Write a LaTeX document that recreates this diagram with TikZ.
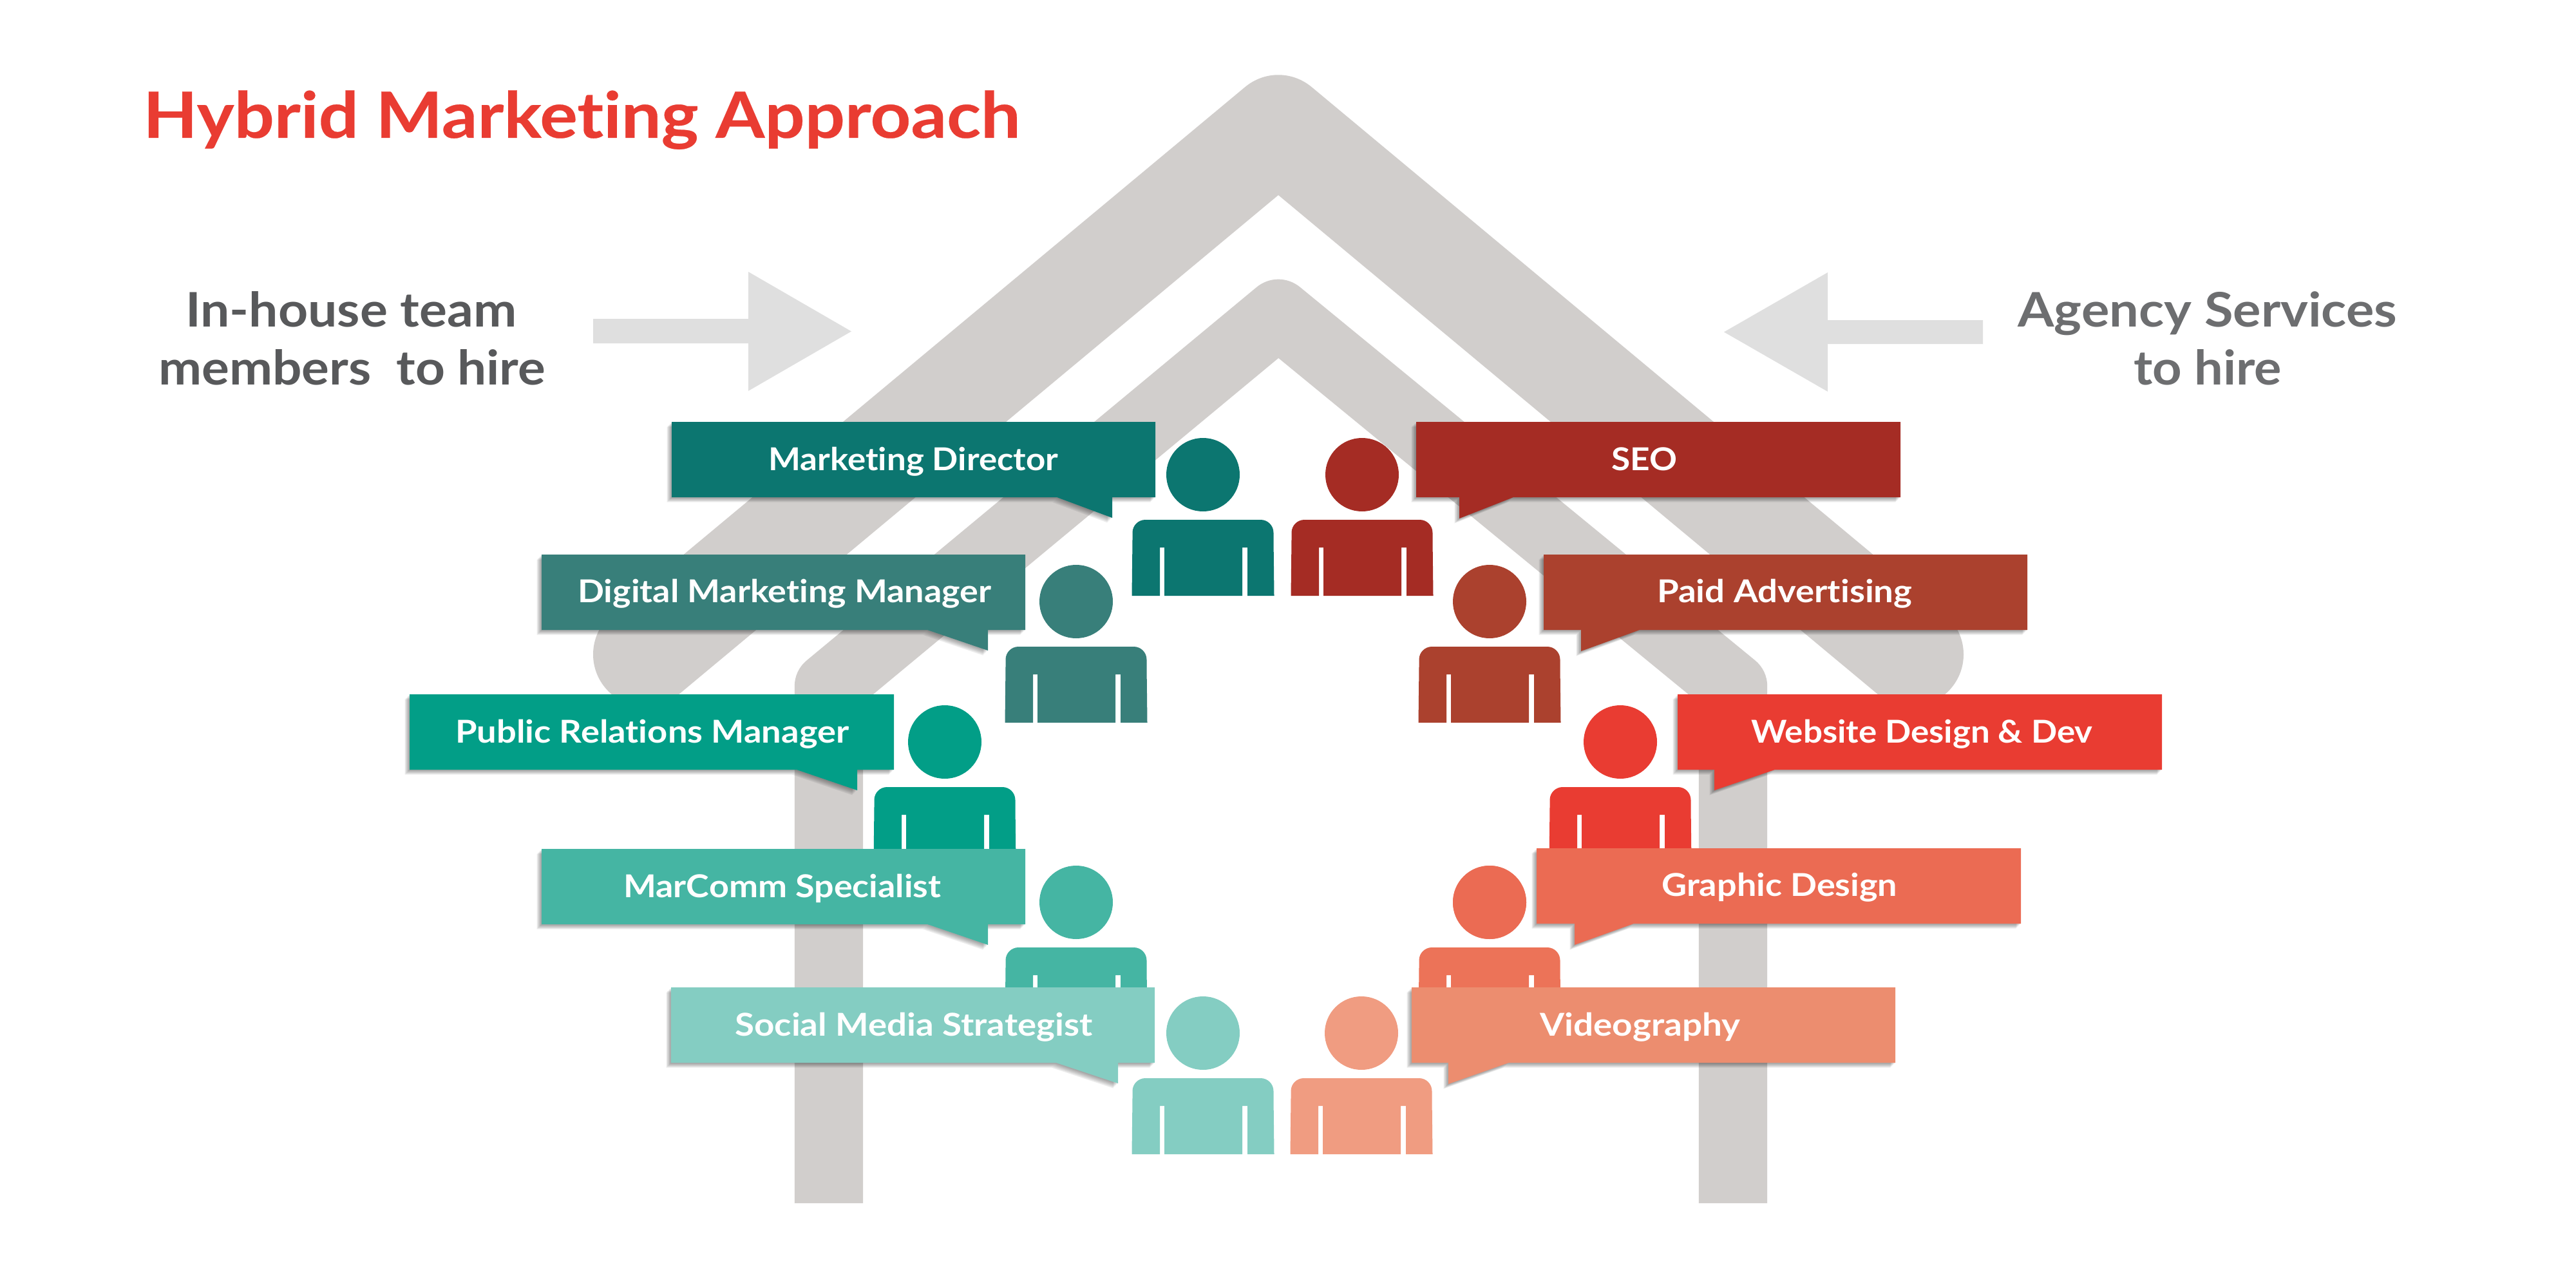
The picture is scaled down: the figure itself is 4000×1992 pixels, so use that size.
\documentclass[tikz,border=0pt]{standalone}
\usepackage{graphicx}
\usepackage{fontspec}
\setmainfont{Lato}[Ligatures=NoCommon]
\newfontfamily\titlefont{Lato Bold}[Ligatures=NoCommon,FakeBold=0.25]
\definecolor{housegrey}{HTML}{D1CECC}
\definecolor{arrowgrey}{HTML}{DFDFDF}
\definecolor{titlered}{HTML}{E93C32}
\definecolor{inhouse}{HTML}{58595B}
\definecolor{agency}{HTML}{6D6E70}
\definecolor{tA}{HTML}{0C7670}
\definecolor{tB}{HTML}{387F7A}
\definecolor{tC}{HTML}{029E87}
\definecolor{tD}{HTML}{45B5A3}
\definecolor{tE}{HTML}{84CDC2}
\definecolor{rA}{HTML}{A52C24}
\definecolor{rB}{HTML}{AB412E}
\definecolor{rC}{HTML}{E93C32}
\definecolor{rD}{HTML}{EB6B53}
\definecolor{rDb}{HTML}{EC7358}
\definecolor{rE}{HTML}{EC8D6F}
\definecolor{rEb}{HTML}{F09C81}
% width in px; 4 px are added for the side bearings of the letters
\newcommand{\fitw}[2]{\resizebox{\dimexpr 0.25mm*#1+1mm\relax}{\height}{#2}}
% person: colour, head centre x, head centre y
\newcommand{\personfig}[3]{%
  \begin{scope}[shift={(#2,#3)}]
    \fill[#1] (0,0) circle[x radius=57*0.25mm, y radius=57*0.25mm];
    \fill[#1] (-110.5,188) -- (-109.5,100) [rounded corners=5mm] -- (-109.5,70) -- (109.5,70) [sharp corners] -- (109.5,100) -- (110.5,188)
      -- (69,188) -- (69,113) -- (61,113) -- (61,188) -- (-60,188) -- (-60,113) -- (-67,113) -- (-67,188) -- cycle;
  \end{scope}}
% speech bubble shadow + fill: colour, path
\newcommand{\speech}[2]{%
  \foreach \o in {1.5,3,4.5,6,7.5}{\fill[black,opacity=.08,shift={(-\o,\o)}] #2;}
  \fill[#1] #2;}
\newcommand{\leftbubble}[7]{\speech{#1}{(#2,#3) -- (#4,#3) -- (#4,#3+117) -- (#6,#3+117) -- (#6,#7) -- (#5,#3+117) -- (#2,#3+117) -- cycle}}
\newcommand{\rightbubble}[7]{\speech{#1}{(#2,#3) -- (#4,#3) -- (#4,#3+117) -- (#5,#3+117) -- (#6,#7) -- (#6,#3+117) -- (#2,#3+117) -- cycle}}
\tikzset{
  title/.style={inner sep=0pt,anchor=base west,text=titlered,font=\fontsize{70.5}{70.5}\selectfont\titlefont},
  sidelabel/.style={inner sep=0pt,anchor=base west,xshift=-0.5mm,font=\fontsize{52.6}{52.6}\selectfont\bfseries},
  bubbletext/.style={inner sep=0pt,anchor=base west,xshift=-0.5mm,text=white,font=\fontsize{34.8}{34.8}\selectfont\bfseries},
  roofstroke/.style={draw=housegrey,line join=round}
}
\begin{document}
\begin{tikzpicture}[x=0.25mm,y=-0.25mm]
\useasboundingbox (0,0) rectangle (4000,1992);
\fill[white] (0,0) rectangle (4000,1992);
% house
\coordinate (oL) at (1002,1016);
\coordinate (oA) at (1985,197.5);
\coordinate (oR) at (2968,1016);
\coordinate (iLb) at (1287,1868);
\coordinate (iLe) at (1287,1066);
\coordinate (iA) at (1985,487);
\coordinate (iRe) at (2691,1066);
\coordinate (iRb) at (2691,1868);
\draw[roofstroke,line width=40.5mm,line cap=round] (oL) -- (oA) -- (oR);
\draw[roofstroke,line width=26.6mm] (iLb) -- (iLe) -- (iA) -- (iRe) -- (iRb);
% arrows
\fill[arrowgrey] (921,495) -- (1162,495) -- (1162,422) -- (1322,514.5) -- (1162,607) -- (1162,533) -- (921,533) -- cycle;
\fill[arrowgrey] (3079,497) -- (2838,497) -- (2838,423) -- (2677,515.5) -- (2838,608) -- (2838,534) -- (3079,534) -- cycle;
% texts at top
\node[title] (title) at (222,214) {\fitw{1358}{Hybrid Marketing Approach}};
\node[sidelabel,text=inhouse] (ih1) at (290,507) {\fitw{510}{In-house team}};
\node[sidelabel,text=inhouse] (ih2) at (248,597) {\fitw{597}{members\ \ to hire}};
\node[sidelabel,text=agency] (ag1) at (3135,507) {\fitw{585}{Agency Services}};
\node[sidelabel,text=agency] (ag2) at (3315,597) {\fitw{226}{to hire}};
% top row
\personfig{tA}{1868}{737}
\leftbubble{tA}{1043}{655}{1794}{1641}{1727}{804}
\node[bubbletext] (b1) at (1195,730) {\fitw{446}{Marketing Director}};
\personfig{rA}{2115}{737}
\rightbubble{rA}{2199}{655}{2951}{2350}{2266}{805}
\node[bubbletext] (r1) at (2504,730) {\fitw{98}{SEO}};
% second row
\personfig{tB}{1671}{934}
\leftbubble{tB}{841}{861}{1592}{1440}{1534}{1010}
\node[bubbletext] (b2) at (899,935) {\fitw{638}{Digital Marketing Manager}};
\personfig{rB}{2313}{934}
\rightbubble{rB}{2397}{861}{3148}{2546}{2455}{1011}
\node[bubbletext] (r2) at (2575,935) {\fitw{392}{Paid Advertising}};
% third row
\personfig{tC}{1467}{1152}
\leftbubble{tC}{636}{1078}{1388}{1237}{1331}{1227}
\node[bubbletext] (b3) at (709,1153) {\fitw{607}{Public Relations Manager}};
\personfig{rC}{2516}{1152}
\rightbubble{rC}{2605}{1078}{3357}{2756}{2662}{1227}
\node[bubbletext] (r3) at (2721,1153) {\fitw{526}{Website Design \& Dev}};
% fourth row
\personfig{tD}{1671}{1401}
\leftbubble{tD}{841}{1318}{1592}{1440}{1534}{1467}
\node[bubbletext] (b4) at (970,1393) {\fitw{489}{MarComm Specialist}};
\personfig{rDb}{2313}{1401}
\fill[rD] (2313,1401) circle[radius=57*0.25mm];
\rightbubble{rD}{2386}{1317}{3138}{2537}{2445}{1467}
\node[bubbletext] (r4) at (2582,1391) {\fitw{362}{Graphic Design}};
% fifth row
\personfig{tE}{1868}{1604}
\leftbubble{tE}{1042}{1533}{1793}{1640}{1736}{1682}
\node[bubbletext] (b5) at (1143,1608) {\fitw{551}{Social Media Strategist}};
\personfig{rEb}{2114}{1604}
\rightbubble{rE}{2192}{1533}{2943}{2343}{2249}{1683}
\node[bubbletext] (r5) at (2393,1608) {\fitw{307}{Videography}};
\end{tikzpicture}
\end{document}
